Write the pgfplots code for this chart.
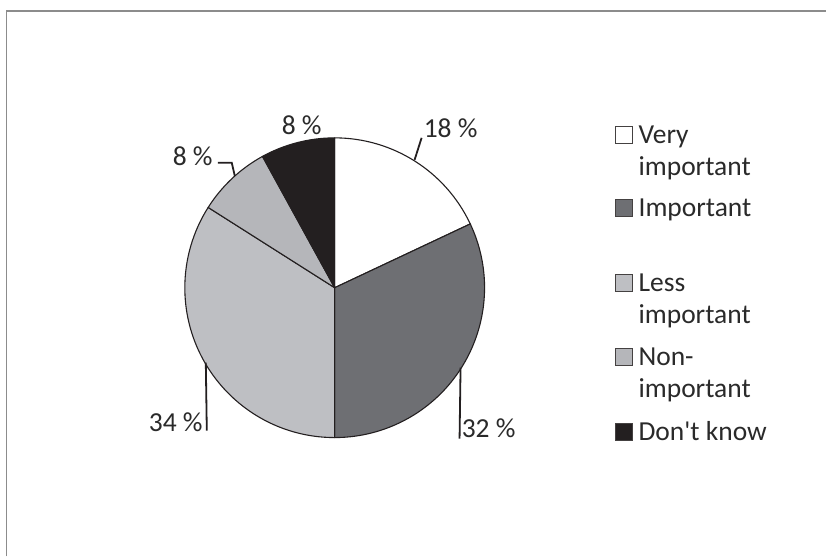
\documentclass[border=0pt]{standalone}
\usepackage{pgfplots}
\usepackage{pgfplotstable}
\pgfplotsset{compat=1.18}
\usepackage{fontspec}
\setmainfont{Carlito}[Ligatures=TeXOff]

\definecolor{edge}{HTML}{231F20}
\definecolor{veryimp}{HTML}{FFFFFF}
\definecolor{imp}{HTML}{6E6F73}
\definecolor{lessimp}{HTML}{BEBFC3}
\definecolor{nonimp}{HTML}{B5B6BA}
\definecolor{dunno}{HTML}{231F20}
\definecolor{framegray}{HTML}{8C8C8C}
\definecolor{txt}{HTML}{2A2A2A}

% shares in percent, clockwise from 12 o'clock
\pgfplotstableread{
share colour
18 veryimp
32 imp
34 lessimp
8 nonimp
8 dunno
}\piedata

\begin{document}
\begin{tikzpicture}
\begin{axis}[
  scale only axis, width=827bp, height=557bp,
  xmin=0, xmax=827, ymin=0, ymax=557,
  hide axis, clip=false,
]
\path (axis cs:0,0) rectangle (axis cs:827,557);
\draw[framegray, line width=1.6bp] (axis cs:6.5,0) -- (axis cs:6.5,546) -- (axis cs:827,546);

% slices
\gdef\startang{90}
\pgfplotsinvokeforeach{0,...,4}{
  \pgfplotstablegetelem{#1}{share}\of\piedata
  \pgfmathsetmacro\stopang{\startang-3.6*\pgfplotsretval}
  \pgfplotstablegetelem{#1}{colour}\of\piedata
  \edef\slice{\noexpand\filldraw[fill=\pgfplotsretval, draw=edge, line width=1.1bp, line join=round]
    (axis cs:335,269) -- ++(\startang:150bp) arc[start angle=\startang, end angle=\stopang, radius=150bp] -- cycle;}
  \slice
  \global\let\startang\stopang
}

% leader lines
\draw[edge, line width=1.8bp] (axis cs:415,397) -- (axis cs:422,419);
\draw[edge, line width=1.8bp] (axis cs:461,189) -- (axis cs:460,118);
\draw[edge, line width=1.8bp] (axis cs:206,194) -- (axis cs:207,126);
\draw[edge, line width=1.8bp] (axis cs:235,381) -- (axis cs:232,394) -- (axis cs:218,394);

% data labels
\begin{scope}[every node/.style={txt, inner sep=0pt, font=\fontsize{27.5bp}{32bp}\selectfont}]
\node[anchor=base west] at (axis cs:424,419) {18~\%};
\node[anchor=base west] at (axis cs:462,119) {32~\%};
\node[anchor=base east] at (axis cs:203,125) {34~\%};
\node[anchor=base east] at (axis cs:213,391) {8~\%};
\node[anchor=base] at (axis cs:302,422) {8~\%};

% legend
\filldraw[fill=veryimp, draw=edge!85, line width=1bp] (axis cs:616.5,413.5) rectangle ++(17bp,17bp);
\filldraw[fill=imp, draw=edge!85, line width=1bp] (axis cs:616.5,340.5) rectangle ++(17bp,17bp);
\filldraw[fill=lessimp, draw=edge!85, line width=1bp] (axis cs:616.5,265.5) rectangle ++(17bp,17bp);
\filldraw[fill=nonimp, draw=edge!85, line width=1bp] (axis cs:616.5,191.5) rectangle ++(17bp,17bp);
\filldraw[fill=dunno, draw=edge!85, line width=1bp] (axis cs:616.5,116.5) rectangle ++(17bp,17bp);
\node[anchor=base west] at (axis cs:639,413.5) {Very};
\node[anchor=base west] at (axis cs:639,381.5) {important};
\node[anchor=base west] at (axis cs:639,340.5) {Important};
\node[anchor=base west] at (axis cs:639,265.5) {Less};
\node[anchor=base west] at (axis cs:639,233.5) {important};
\node[anchor=base west] at (axis cs:639,191.5) {Non-};
\node[anchor=base west] at (axis cs:639,159.5) {important};
\node[anchor=base west] at (axis cs:639,116.5) {Don't know};
\end{scope}
\end{axis}
\end{tikzpicture}
\end{document}
